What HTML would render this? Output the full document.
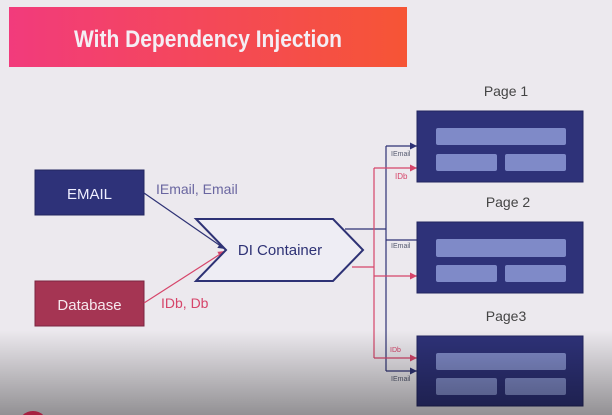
<!DOCTYPE html>
<html><head><meta charset="utf-8"><style>
html,body{margin:0;padding:0;overflow:hidden;}
body{width:612px;height:415px;overflow:hidden;background:#ece9ee;position:relative;font-family:"Liberation Sans",sans-serif;}
svg{display:block;}
</style></head><body>
<svg width="612" height="415" viewBox="0 0 612 415" xmlns="http://www.w3.org/2000/svg" style="position:absolute;left:0;top:0">
<defs>
<linearGradient id="ban" x1="0" x2="1" y1="0" y2="0"><stop offset="0" stop-color="#f23b7c"/><stop offset="1" stop-color="#f65535"/></linearGradient>
<linearGradient id="shade" x1="0" x2="0" y1="0" y2="1"><stop offset="0" stop-color="#000" stop-opacity="0"/><stop offset="1" stop-color="#000" stop-opacity="0.38"/></linearGradient>
<marker id="ad" markerWidth="8" markerHeight="8" refX="7" refY="4" orient="auto" markerUnits="userSpaceOnUse"><path d="M0,0.5 L7,4 L0,7.5z" fill="#2e3275"/></marker>
<marker id="ar" markerWidth="8" markerHeight="8" refX="7" refY="4" orient="auto" markerUnits="userSpaceOnUse"><path d="M0,0.5 L7,4 L0,7.5z" fill="#d6456a"/></marker>
</defs>
<rect x="9" y="7" width="398" height="60" fill="url(#ban)"/>
<text x="74" y="47" textLength="268" lengthAdjust="spacingAndGlyphs" font-size="24" font-weight="bold" fill="#f4eef4">With Dependency Injection</text>

<rect x="35" y="170" width="109" height="45" fill="#2e3279" stroke="#232660"/>
<text x="89.5" y="199" text-anchor="middle" font-size="15" fill="#eef">EMAIL</text>
<rect x="35" y="281" width="109" height="45" fill="#a53553" stroke="#7a2540"/>
<text x="89.5" y="310" text-anchor="middle" font-size="15" fill="#f6e8ee">Database</text>

<line x1="144" y1="193" x2="225" y2="249" stroke="#2e3275" stroke-width="1.2" marker-end="url(#ad)"/>
<line x1="144" y1="303" x2="225" y2="251" stroke="#d6456a" stroke-width="1.2" marker-end="url(#ar)"/>
<text x="156" y="194" font-size="14" fill="#6a66a0">IEmail, Email</text>
<text x="161" y="308" font-size="14" fill="#d6456a">IDb, Db</text>

<polygon points="196,219 333,219 363,250 333,281 196,281 226,250" fill="#eeedf4" stroke="#2e3275" stroke-width="2"/>
<text x="280" y="255" text-anchor="middle" font-size="15" fill="#2e3275">DI Container</text>

<polyline points="345,229 386,229" fill="none" stroke="#2e3275" stroke-width="1.2"/>
<polyline points="352,267 374,267" fill="none" stroke="#d6456a" stroke-width="1.2"/>
<line x1="386" y1="146" x2="386" y2="371" stroke="#2e3275" stroke-width="1.2"/>
<line x1="374" y1="168" x2="374" y2="358" stroke="#d6456a" stroke-width="1.2"/>
<line x1="386" y1="146" x2="417" y2="146" stroke="#2e3275" stroke-width="1.2" marker-end="url(#ad)"/>
<line x1="374" y1="168" x2="417" y2="168" stroke="#d6456a" stroke-width="1.2" marker-end="url(#ar)"/>
<line x1="386" y1="240" x2="417" y2="240" stroke="#2e3275" stroke-width="1.2"/>
<line x1="374" y1="276" x2="417" y2="276" stroke="#d6456a" stroke-width="1.2" marker-end="url(#ar)"/>
<line x1="374" y1="358" x2="417" y2="358" stroke="#d6456a" stroke-width="1.2" marker-end="url(#ar)"/>
<line x1="386" y1="371" x2="417" y2="371" stroke="#2e3275" stroke-width="1.2" marker-end="url(#ad)"/>
<g font-size="7" fill="#555a70">
<text x="391" y="156">IEmail</text>
<text x="391" y="248">IEmail</text>
<text x="391" y="381">IEmail</text>
</g>
<text x="395" y="179" font-size="8" fill="#d6456a">IDb</text>
<text x="390" y="352" font-size="7" fill="#d6456a">IDb</text>

<g font-size="14" fill="#444" text-anchor="middle">
<text x="506" y="96">Page 1</text>
<text x="508" y="207">Page 2</text>
<text x="506" y="321">Page3</text>
</g>

<g>
<rect x="417" y="111" width="166" height="71" fill="#2e3279" stroke="#222560"/>
<rect x="436" y="128" width="130" height="17" rx="2" fill="#7f8ac8"/>
<rect x="436" y="154" width="61" height="17" rx="2" fill="#7f8ac8"/>
<rect x="505" y="154" width="61" height="17" rx="2" fill="#7f8ac8"/>
</g>
<g>
<rect x="417" y="222" width="166" height="71" fill="#2e3279" stroke="#222560"/>
<rect x="436" y="239" width="130" height="18" rx="2" fill="#7f8ac8"/>
<rect x="436" y="265" width="61" height="17" rx="2" fill="#7f8ac8"/>
<rect x="505" y="265" width="61" height="17" rx="2" fill="#7f8ac8"/>
</g>
<g>
<rect x="417" y="336" width="166" height="70" fill="#2e3279" stroke="#222560"/>
<rect x="436" y="353" width="130" height="17" rx="2" fill="#7f8ac8"/>
<rect x="436" y="378" width="61" height="17" rx="2" fill="#7f8ac8"/>
<rect x="505" y="378" width="61" height="17" rx="2" fill="#7f8ac8"/>
</g>

<rect x="0" y="330" width="612" height="85" fill="url(#shade)"/>
<path d="M22.8,415 A15,15 0 0 1 43.2,415 Z" fill="#a52040"/>
</svg>
</body></html>
